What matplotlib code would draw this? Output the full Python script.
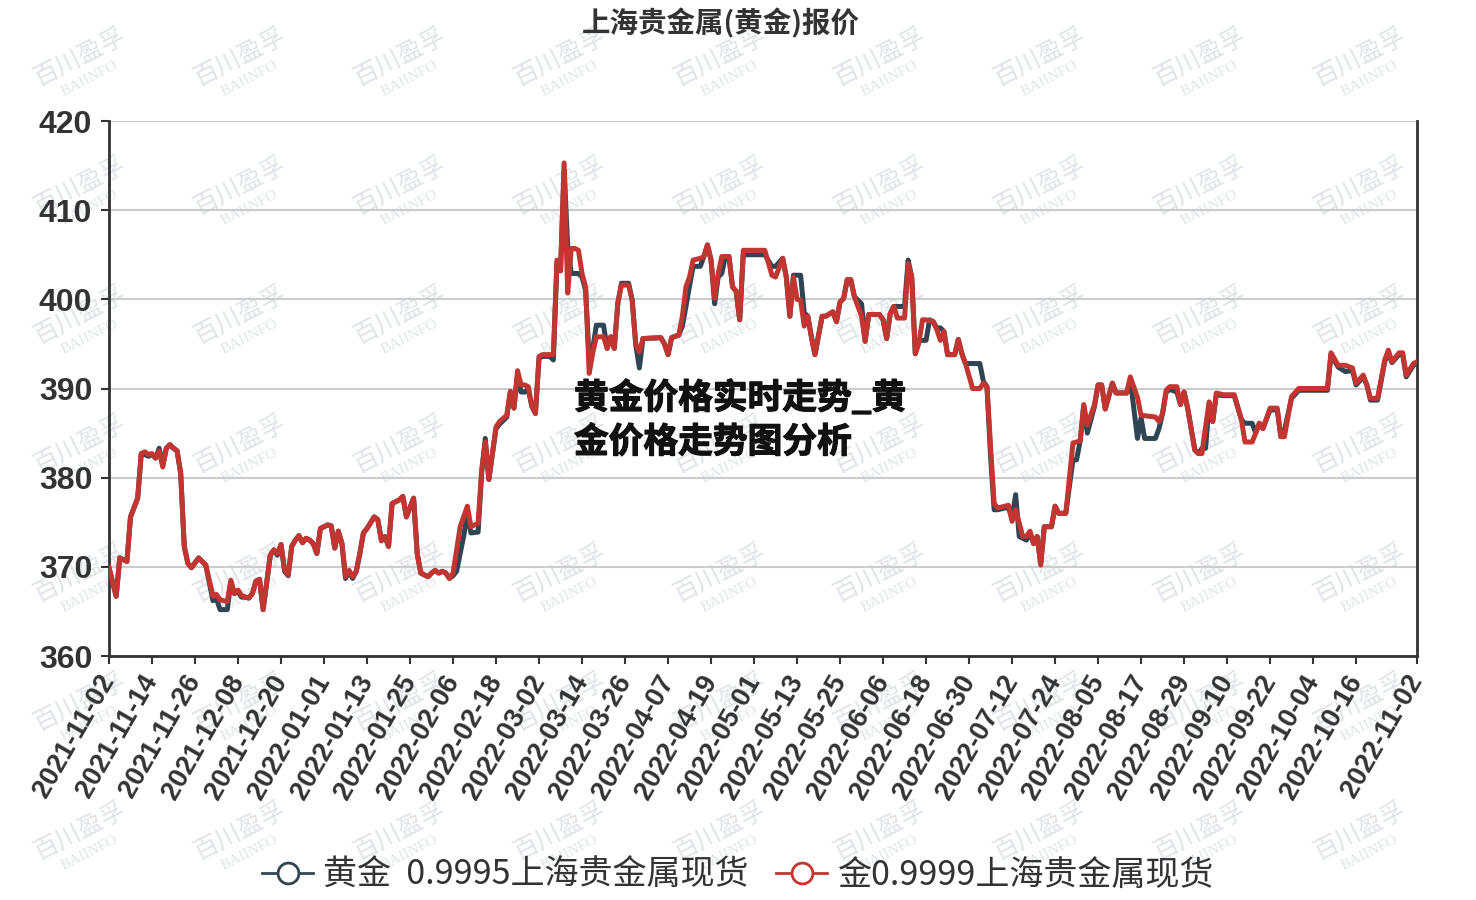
import pandas as pd
import matplotlib
matplotlib.use("Agg")
import matplotlib.pyplot as plt
import matplotlib.patheffects as pe
from matplotlib.lines import Line2D
from matplotlib.font_manager import FontProperties

plt.rcParams['font.family'] = ['Noto Sans CJK SC', 'DejaVu Sans']

# ---- data (day offset from 2021-11-02, price) ----
start_date = "2021-11-02"
end_date = "2022-11-02"
tick_days = list(range(0, 349, 12)) + [365]
y_ticks = [360, 370, 380, 390, 400, 410, 420]

title = "上海贵金属(黄金)报价"
overlay_lines = ["黄金价格实时走势_黄", "金价格走势图分析"]
name_9995 = "黄金  0.9995上海贵金属现货"
name_9999 = "金0.9999上海贵金属现货"

gold_9999 = [
    (0, 369.9), (2, 366.7), (3, 371.0), (5, 370.6), (6, 375.6), (8, 377.7), (9, 382.7), (10, 382.9),
    (11, 382.6), (12, 382.7), (13, 382.2), (14, 383.0), (15, 381.2), (16, 383.3), (17, 383.7), (18, 383.3),
    (19, 383.0), (20, 380.5), (21, 372.3), (22, 370.4), (23, 369.9), (25, 371.0), (26, 370.6), (27, 370.2),
    (29, 366.7), (30, 366.9), (31, 366.3), (33, 366.1), (34, 368.5), (35, 367.0), (36, 367.4), (37, 366.8),
    (38, 366.6), (39, 366.5), (40, 367.0), (41, 368.4), (42, 368.6), (43, 365.2), (44, 368.2), (45, 371.3),
    (46, 371.9), (47, 371.5), (48, 372.5), (49, 369.7), (50, 369.1), (51, 372.3), (52, 373.0), (53, 373.5),
    (54, 372.7), (55, 373.2), (56, 373.0), (57, 372.6), (58, 371.5), (59, 374.3), (60, 374.5), (61, 374.7),
    (62, 374.6), (63, 372.1), (64, 374.0), (65, 372.6), (66, 368.9), (67, 369.6), (68, 368.9), (69, 369.5),
    (70, 371.5), (71, 373.8), (72, 374.3), (74, 375.6), (75, 375.3), (76, 372.9), (77, 373.4), (78, 372.3),
    (79, 377.1), (81, 377.5), (82, 377.9), (83, 375.6), (85, 377.7), (86, 371.5), (87, 369.3), (89, 368.9),
    (90, 369.3), (91, 369.6), (92, 369.3), (93, 369.5), (94, 369.3), (95, 368.7), (96, 369.3), (98, 374.5),
    (100, 376.8), (101, 374.5), (103, 374.9), (104, 380.9), (105, 384.0), (106, 379.8), (108, 385.7), (109, 386.3),
    (111, 387.0), (112, 389.7), (113, 387.8), (114, 392.0), (115, 390.4), (116, 390.4), (117, 390.2), (118, 388.0),
    (119, 387.2), (120, 393.6), (121, 393.8), (124, 393.8), (125, 404.4), (126, 403.2), (127, 415.3), (128, 400.7),
    (129, 405.7), (130, 405.7), (131, 405.5), (132, 402.9), (133, 401.4), (134, 391.7), (135, 394.0), (136, 395.8),
    (138, 395.8), (139, 394.5), (140, 395.8), (141, 394.5), (142, 399.6), (143, 401.6), (145, 401.6), (146, 399.9),
    (147, 394.9), (148, 394.1), (149, 395.6), (154, 395.7), (155, 395.0), (156, 393.8), (157, 395.7), (159, 396.0),
    (160, 398.1), (161, 401.4), (162, 402.5), (163, 404.4), (165, 404.6), (166, 404.8), (167, 406.1), (168, 404.4),
    (169, 400.1), (170, 402.9), (171, 404.8), (173, 404.8), (174, 401.4), (175, 400.9), (176, 397.7), (177, 405.5),
    (183, 405.5), (185, 402.7), (186, 402.5), (188, 404.6), (189, 402.5), (190, 398.1), (191, 402.5), (192, 400.0),
    (193, 399.9), (194, 397.0), (195, 398.1), (196, 395.8), (197, 393.8), (199, 398.1), (200, 398.1), (202, 398.6),
    (203, 397.5), (204, 399.7), (205, 400.1), (206, 402.2), (207, 402.2), (208, 400.3), (210, 398.1), (211, 395.3),
    (212, 398.3), (215, 398.3), (216, 397.7), (217, 395.6), (218, 398.4), (219, 399.2), (220, 397.9), (222, 397.9),
    (223, 404.0), (224, 402.5), (225, 393.9), (226, 395.1), (227, 397.7), (228, 397.7), (230, 397.5), (231, 396.6),
    (232, 395.4), (233, 396.4), (234, 393.8), (236, 393.8), (237, 395.5), (238, 393.9), (239, 392.8), (241, 390.0),
    (243, 390.0), (244, 390.6), (245, 390.2), (246, 383.5), (247, 377.1), (248, 376.6), (250, 376.8), (251, 376.9),
    (252, 375.1), (253, 376.4), (255, 373.4), (256, 373.4), (257, 374.0), (258, 372.6), (259, 373.4), (260, 370.2),
    (261, 374.5), (263, 374.5), (264, 376.8), (265, 376.0), (267, 376.0), (269, 383.9), (271, 384.1), (272, 388.2),
    (273, 385.9), (275, 388.2), (276, 390.4), (277, 390.4), (278, 387.7), (280, 390.6), (281, 389.5), (284, 389.5),
    (285, 391.3), (287, 389.0), (288, 387.0), (290, 386.9), (292, 386.8), (293, 386.3), (294, 387.2), (295, 389.8),
    (296, 390.2), (298, 390.2), (299, 388.2), (300, 389.6), (301, 387.8), (303, 383.1), (304, 382.7), (305, 382.7),
    (306, 385.7), (307, 388.5), (308, 386.3), (309, 389.5), (311, 389.3), (314, 389.3), (316, 386.5), (317, 384.0),
    (319, 384.0), (320, 385.0), (321, 386.1), (322, 385.5), (324, 387.8), (326, 387.8), (327, 384.6), (328, 384.6),
    (330, 389.1), (332, 390.0), (340, 390.0), (341, 394.0), (343, 392.6), (345, 392.6), (347, 392.3), (348, 390.6),
    (350, 391.5), (351, 390.4), (352, 388.9), (354, 388.9), (356, 393.2), (357, 394.3), (358, 393.0), (360, 394.0),
    (361, 394.0), (362, 391.5), (364, 392.8), (365, 393.0),
]

gold_9995 = [
    (0, 369.9), (2, 366.7), (3, 371.0), (5, 370.6), (6, 375.6), (8, 377.7), (9, 382.7), (10, 382.6),
    (11, 382.4), (12, 382.6), (13, 382.2), (14, 383.3), (15, 381.4), (16, 383.3), (17, 383.7), (18, 383.3),
    (19, 383.0), (20, 380.5), (21, 372.3), (22, 370.4), (23, 369.9), (25, 371.0), (26, 370.6), (27, 370.2),
    (29, 366.2), (30, 366.4), (31, 365.2), (33, 365.2), (34, 368.3), (35, 367.0), (36, 367.2), (37, 366.6),
    (38, 366.6), (39, 366.5), (40, 367.0), (41, 368.4), (42, 368.6), (43, 365.2), (44, 368.2), (45, 371.3),
    (46, 371.9), (47, 371.3), (48, 372.5), (49, 369.5), (50, 369.0), (51, 372.3), (52, 373.0), (53, 373.5),
    (54, 372.7), (55, 373.2), (56, 373.0), (57, 372.6), (58, 371.5), (59, 374.3), (60, 374.5), (61, 374.7),
    (62, 374.6), (63, 372.1), (64, 374.0), (65, 372.6), (66, 368.7), (67, 369.4), (68, 368.7), (69, 369.5),
    (70, 371.5), (71, 373.8), (72, 374.3), (74, 375.6), (75, 375.3), (76, 373.1), (77, 373.4), (78, 372.3),
    (79, 377.1), (81, 377.5), (82, 377.9), (83, 375.6), (85, 377.7), (86, 371.5), (87, 369.3), (89, 368.9),
    (90, 369.3), (91, 369.6), (92, 369.3), (93, 369.5), (94, 369.3), (95, 368.7), (96, 369.0), (97, 369.5),
    (99, 373.5), (100, 376.0), (101, 373.8), (103, 373.9), (104, 380.5), (105, 384.4), (106, 379.8), (108, 385.5),
    (109, 386.0), (111, 386.8), (112, 389.6), (113, 387.8), (114, 391.5), (115, 389.6), (116, 389.6), (117, 389.9),
    (118, 388.0), (119, 387.2), (120, 393.4), (121, 393.6), (123, 393.6), (124, 393.2), (125, 404.0), (126, 403.2),
    (127, 414.5), (128, 406.0), (129, 402.9), (131, 402.9), (132, 402.5), (133, 401.0), (134, 393.2), (135, 394.5),
    (136, 397.1), (138, 397.1), (139, 394.5), (140, 395.8), (141, 394.5), (142, 399.6), (143, 401.8), (145, 401.8),
    (146, 399.9), (147, 394.9), (148, 392.3), (149, 395.6), (154, 395.7), (155, 395.0), (156, 393.8), (157, 395.7),
    (159, 396.0), (160, 397.0), (161, 399.2), (162, 401.5), (163, 403.7), (165, 403.7), (166, 404.8), (167, 406.1),
    (168, 404.4), (169, 399.5), (170, 402.5), (171, 402.9), (172, 404.8), (173, 404.8), (174, 401.4), (175, 400.9),
    (176, 397.7), (177, 405.0), (183, 405.0), (185, 403.7), (186, 403.7), (188, 404.6), (189, 402.5), (190, 398.1),
    (191, 402.7), (193, 402.7), (194, 398.5), (195, 398.1), (196, 395.8), (197, 393.8), (199, 398.1), (200, 398.1),
    (202, 398.6), (203, 397.5), (204, 399.7), (205, 400.1), (206, 402.2), (207, 402.2), (208, 400.3), (210, 399.5),
    (211, 395.3), (212, 398.3), (215, 398.3), (216, 397.7), (217, 395.6), (218, 398.4), (219, 399.2), (222, 399.2),
    (223, 404.4), (224, 402.5), (225, 393.9), (226, 395.4), (228, 395.4), (229, 397.7), (230, 397.5), (231, 396.8),
    (232, 396.8), (233, 396.4), (234, 393.8), (236, 393.8), (237, 395.5), (238, 393.9), (239, 392.8), (243, 392.8),
    (244, 390.8), (245, 390.2), (246, 382.4), (247, 376.4), (248, 376.4), (250, 376.6), (251, 376.6), (252, 375.5),
    (253, 378.1), (254, 373.4), (256, 373.0), (257, 373.8), (258, 372.6), (259, 373.4), (260, 370.4), (261, 374.5),
    (263, 374.5), (264, 376.8), (265, 376.0), (267, 376.0), (269, 382.0), (270, 382.0), (271, 384.1), (272, 388.0),
    (273, 385.0), (275, 388.0), (276, 390.4), (277, 390.4), (278, 387.7), (280, 390.6), (281, 389.5), (284, 389.5),
    (285, 391.0), (287, 384.4), (288, 386.7), (289, 384.4), (292, 384.4), (293, 385.5), (294, 387.2), (295, 389.6),
    (296, 389.9), (298, 389.6), (299, 388.2), (300, 389.6), (301, 387.8), (303, 383.1), (304, 382.7), (305, 383.3),
    (306, 383.3), (307, 388.3), (308, 386.3), (309, 389.3), (311, 389.2), (314, 389.2), (316, 386.5), (317, 386.1),
    (319, 386.1), (320, 385.0), (321, 386.1), (322, 385.5), (324, 387.6), (326, 387.6), (327, 384.6), (328, 385.3),
    (330, 388.9), (332, 389.8), (340, 389.8), (341, 393.8), (343, 392.4), (345, 391.9), (347, 392.0), (348, 390.4),
    (350, 391.3), (351, 390.4), (352, 388.7), (354, 388.7), (356, 393.0), (357, 394.0), (358, 392.9), (360, 393.8),
    (361, 393.8), (362, 391.3), (364, 392.6), (365, 392.8),
]

RED = '#c23531'
DARK = '#2f4554'
TXT = '#333333'

dates = pd.date_range(start_date, end_date, freq='D')
W, H = 1476, 900

fig = plt.figure(figsize=(W / 100, H / 100), dpi=100)
ax = fig.add_axes([109 / W, 1 - 656 / H, (1417 - 109) / W, (656 - 121) / H])
ax.set_facecolor('none')

# watermark grid
for cx in range(80, 1476, 160):
    for cy in range(57, 900, 129):
        fig.text(cx / W, 1 - cy / H, "百川盈孚", rotation=27, ha='center', va='center',
                 fontsize=18, color='#dfe4ea', zorder=-5)
        fig.text((cx + 10) / W, 1 - (cy + 22) / H, "BAIINFO", rotation=27, ha='center', va='center',
                 fontsize=11, color='#dfe4ea', family='Liberation Serif', zorder=-5)

d_x = [d for d, _ in gold_9995]
d_y = [v for _, v in gold_9995]
r_x = [d for d, _ in gold_9999]
r_y = [v for _, v in gold_9999]
ax.plot(d_x, d_y, color=DARK, lw=3.6, solid_joinstyle='round', zorder=3)
ax.plot(r_x, r_y, color=RED, lw=3.6, solid_joinstyle='round', zorder=4)

ax.set_xlim(0, len(dates) - 1)
ax.set_ylim(360, 420)
ax.set_yticks(y_ticks)
ax.set_xticks(tick_days)
ax.set_xticklabels([dates[i].strftime('%Y-%m-%d') for i in tick_days])

ax.yaxis.grid(True, color='#cccccc', lw=1.5)
ax.set_axisbelow(True)
for s in ['left', 'bottom', 'right']:
    ax.spines[s].set_color(TXT)
    ax.spines[s].set_linewidth(2)
ax.spines['top'].set_visible(False)

ax.tick_params(axis='y', length=6, width=1.5, color=TXT, pad=6, right=False)
ax.tick_params(axis='x', length=6, width=1.5, color=TXT, pad=9)
for lab in ax.get_yticklabels():
    lab.set_fontfamily('Liberation Sans')
    lab.set_fontweight('bold')
    lab.set_fontsize(23)
    lab.set_color(TXT)
for lab in ax.get_xticklabels():
    lab.set_fontfamily('Liberation Sans')
    lab.set_fontweight('bold')
    lab.set_fontsize(19.5)
    lab.set_color(TXT)
    lab.set_rotation(60)
    lab.set_ha('right')
    lab.set_va('center')
    lab.set_rotation_mode('anchor')

fig.text(721 / W, 1 - 23 / H, title, ha='center', va='center', fontsize=20.5,
         fontweight='bold', color=TXT)

heavy = [pe.withStroke(linewidth=0.9, foreground='#111111')]
fig.text(574 / W, 1 - 398 / H, overlay_lines[0], ha='left', va='center', fontsize=25,
         fontweight='bold', color='#111111', zorder=10, path_effects=heavy)
fig.text(574 / W, 1 - 442 / H, overlay_lines[1], ha='left', va='center', fontsize=25,
         fontweight='bold', color='#111111', zorder=10, path_effects=heavy)

handles = [
    Line2D([], [], color=DARK, lw=2, marker='o', ms=15, mfc='white', mew=2),
    Line2D([], [], color=RED, lw=2, marker='o', ms=15, mfc='white', mew=2),
]
leg = fig.legend(handles, [name_9995, name_9999], loc='center', bbox_to_anchor=(738 / W, 1 - 875 / H),
                 ncol=2, frameon=False, prop=FontProperties(family='Noto Sans CJK SC', size=24.5),
                 handlelength=1.5, handletextpad=0.3, columnspacing=0.8)
for t in leg.get_texts():
    t.set_color(TXT)

fig.savefig('out.png', dpi=100)
